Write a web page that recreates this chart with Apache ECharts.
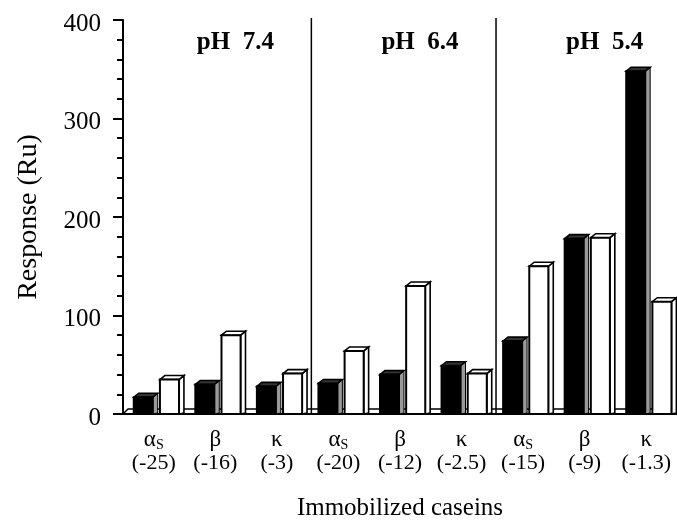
<!DOCTYPE html>
<html><head><meta charset="utf-8">
<script src="https://cdn.jsdelivr.net/npm/echarts@6/dist/echarts.min.js"></script>
<style>html,body{margin:0;padding:0;background:#fff}#c{width:677px;height:523px}</style>
</head><body><div id="c"></div>
<script>
const caseins = ['αS', 'β', 'κ', 'αS', 'β', 'κ', 'αS', 'β', 'κ'];
const charges = ['(-25)', '(-16)', '(-3)', '(-20)', '(-12)', '(-2.5)', '(-15)', '(-9)', '(-1.3)'];
const phLabels = ['pH  7.4', 'pH  6.4', 'pH  5.4'];
const blackValues = [17, 30, 28, 31, 40, 49, 74, 178, 348];
const whiteValues = [35, 80, 41, 64, 130, 41, 150, 179, 114];
const yTicks = [0, 100, 200, 300, 400];

const FONT = 'Liberation Serif';
const chart = echarts.init(document.getElementById('c'));

function labelFor(i) {
  const n = caseins[i];
  const first = n === 'αS' ? '{g|α}{s|S}' : '{g|' + n + '}';
  return first + '\n{n|' + charges[i] + '}';
}

function boxRenderer(kind) {
  return function (params, api) {
    const i = api.value(0), v = api.value(1);
    const top = api.coord([i, v]);
    const base = api.coord([i, 0]);
    const bw = api.size([1, 0])[0];
    const cx = top[0];
    const x0 = kind === 'b' ? cx - 0.325 * bw : cx + 0.1 * bw;
    const x1 = kind === 'b' ? cx - 0.016 * bw : cx + 0.41 * bw;
    const dx = 0.08 * bw, dy = 4;
    const yt = top[1], yb = base[1];
    const black = kind === 'b';
    return {
      type: 'group',
      children: [
        { type: 'polygon', shape: { points: [[x1, yt], [x1 + dx, yt - dy], [x1 + dx, yb - 1], [x1, yb]] },
          style: { fill: black ? '#9a9a9a' : '#fff', stroke: '#000', lineWidth: black ? 1 : 1.6 } },
        { type: 'polygon', shape: { points: [[x0, yt], [x0 + dx, yt - dy], [x1 + dx, yt - dy], [x1, yt]] },
          style: { fill: black ? '#333' : '#fff', stroke: '#000', lineWidth: 1.6 } },
        { type: 'rect', shape: { x: x0, y: yt, width: x1 - x0, height: yb - yt },
          style: { fill: black ? '#000' : '#fff', stroke: '#000', lineWidth: 2 } }
      ]
    };
  };
}

const option = {
  animation: false,
  backgroundColor: '#fff',
  grid: { left: 123, right: 0, top: 20, bottom: 109, containLabel: false, outerBoundsMode: 'none' },
  xAxis: {
    type: 'category',
    data: caseins.map((c, i) => i),
    boundaryGap: true,
    name: 'Immobilized caseins',
    nameLocation: 'middle',
    nameGap: 82,
    nameTextStyle: { fontFamily: FONT, fontSize: 25, color: '#000' },
    axisLine: { show: true, lineStyle: { color: '#000', width: 2 } },
    axisTick: { show: false },
    splitLine: { show: false },
    axisLabel: {
      interval: 0, margin: 14, color: '#000', fontFamily: FONT, fontSize: 21, lineHeight: 23, align: 'center',
      formatter: (v, i) => labelFor(i),
      rich: {
        g: { fontFamily: FONT, fontSize: 23, lineHeight: 24, color: '#000' },
        s: { fontFamily: FONT, fontSize: 14, lineHeight: 24, verticalAlign: 'bottom', color: '#000' },
        n: { fontFamily: FONT, fontSize: 22, lineHeight: 23, color: '#000' }
      }
    }
  },
  yAxis: {
    type: 'value',
    min: yTicks[0], max: yTicks[yTicks.length - 1], interval: 100,
    name: 'Response (Ru)',
    nameLocation: 'middle',
    nameGap: 80,
    nameTextStyle: { fontFamily: FONT, fontSize: 28, color: '#000' },
    axisLine: { show: true, lineStyle: { color: '#000', width: 2 } },
    axisTick: { show: true, inside: false, length: 10, lineStyle: { color: '#000', width: 2 } },
    minorTick: { show: true, splitNumber: 5, length: 6, lineStyle: { color: '#000', width: 2 } },
    splitLine: { show: false },
    axisLabel: {
      margin: 22, color: '#000', fontFamily: FONT, fontSize: 25,
      formatter: v => '{v|' + v + '}',
      rich: { v: { fontFamily: FONT, fontSize: 25, color: '#000', lineHeight: 26, padding: [8, 0, 0, 0] } }
    }
  },
  series: [
    {
      type: 'custom', z: 1, silent: true,
      data: [[0, 0]],
      renderItem: function (params, api) {
        const cs = params.coordSys;
        const yb = cs.y + cs.height;
        const bw = cs.width / caseins.length;
        const kids = [
          { type: 'polyline', shape: { points: [[cs.x, yb], [cs.x + 5, yb - 5], [cs.x + cs.width, yb - 5]] },
            style: { stroke: '#000', lineWidth: 1.5, fill: null } }
        ];
        [3, 6].forEach(k => {
          const x = cs.x + bw * k + 0.06 * bw;
          kids.push({ type: 'line', shape: { x1: x, y1: cs.y - 2, x2: x, y2: yb },
            style: { stroke: '#000', lineWidth: 1.5 } });
        });
        phLabels.forEach((t, g) => {
          const x = cs.x + bw * (3 * g + 1.5) + 20;
          kids.push({ type: 'text', x: x, y: cs.y + 23,
            style: { text: t, fontFamily: FONT, fontWeight: 'bold', fontSize: 25, fill: '#000', align: 'center', verticalAlign: 'middle' } });
        });
        return { type: 'group', children: kids };
      }
    },
    {
      type: 'custom', z: 3, silent: true,
      data: blackValues.map((v, i) => [i, v]),
      renderItem: boxRenderer('b')
    },
    {
      type: 'custom', z: 3, silent: true,
      data: whiteValues.map((v, i) => [i, v]),
      renderItem: boxRenderer('w')
    }
  ]
};
chart.setOption(option);
</script>
</body></html>
